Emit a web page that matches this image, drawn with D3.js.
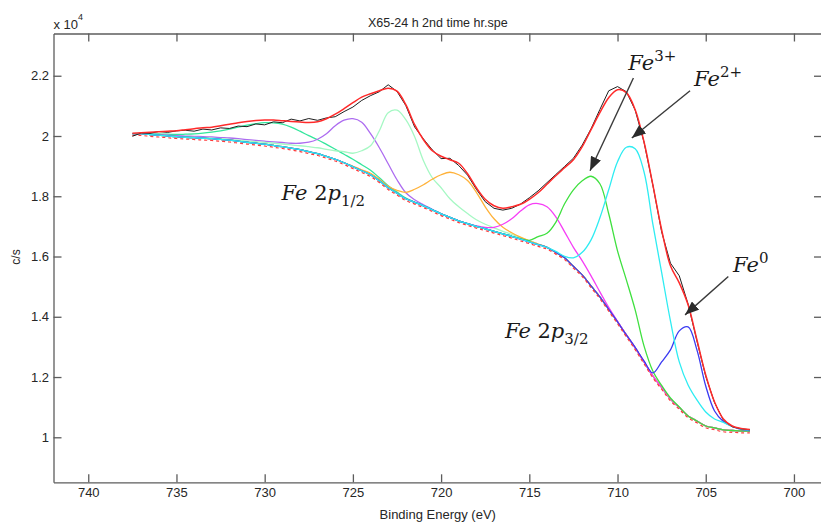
<!DOCTYPE html>
<html>
<head>
<meta charset="utf-8">
<script src="https://cdn.jsdelivr.net/npm/d3@7"></script>
<style>
  body { margin: 0; background: #fff; }
  svg { display: block; }
  .axis text { font-family: "Liberation Sans", Arial, sans-serif; font-size: 13px; fill: #262626; }
  .axis path, .axis line { stroke: #5c5c5c; stroke-width: 1.3; }
  .lbl { font-family: "Liberation Sans", Arial, sans-serif; fill: #262626; }
  .math { font-family: "DejaVu Serif", serif; fill: #1a1a1a; }
</style>
</head>
<body>
<svg id="chart" width="821" height="522"></svg>
<script>
// binding energy grid (eV), 0.5 eV steps
const energy = [737.5, 737, 736.5, 736, 735.5, 735, 734.5, 734, 733.5, 733, 732.5, 732, 731.5, 731, 730.5, 730,
  729.5, 729, 728.5, 728, 727.5, 727, 726.5, 726, 725.5, 725, 724.5, 724, 723.5, 723, 722.5, 722, 721.5, 721,
  720.5, 720, 719.5, 719, 718.5, 718, 717.5, 717, 716.5, 716, 715.5, 715, 714.5, 714, 713.5, 713, 712.5, 712,
  711.5, 711, 710.5, 710, 709.5, 709, 708.5, 708, 707.5, 707, 706.5, 706, 705.5, 705, 704.5, 704, 703.5, 703, 702.5];

// shirley background (c/s)
const background = [20076, 20076, 20049, 20026, 20003, 19976, 19959, 19943, 19926, 19910, 19886, 19860, 19827,
  19793, 19760, 19727, 19687, 19644, 19594, 19544, 19478, 19411, 19322, 19228, 19112, 18979, 18847, 18714, 18514,
  18282, 18099, 17916, 17800, 17684, 17551, 17418, 17302, 17186, 17093, 17003, 16920, 16837, 16754, 16671, 16578,
  16488, 16395, 16305, 16139, 15956, 15674, 15392, 15026, 14661, 14246, 13830, 13398, 12967, 12501, 12036, 11654,
  11272, 10990, 10708, 10541, 10375, 10309, 10243, 10226, 10209, 10209];

// fitted envelope (c/s)
const envelope = [20092, 20109, 20125, 20142, 20159, 20175, 20208, 20241, 20275, 20291, 20341, 20391, 20441,
  20484, 20514, 20531, 20531, 20508, 20484, 20464, 20451, 20474, 20574, 20723, 20906, 21105, 21288, 21404, 21504,
  21587, 21487, 21038, 20375, 19876, 19511, 19328, 19212, 19096, 18749, 18282, 17900, 17684, 17601, 17651, 17734,
  17900, 18116, 18398, 18680, 18946, 19212, 19644, 20209, 20773, 21272, 21537, 21438, 20873, 19810, 18383, 16888,
  15691, 15126, 14398, 13236, 12070, 11173, 10608, 10375, 10292, 10259];

// measured spectrum (c/s)
const measured = [19990, 20100, 20090, 20150, 20120, 20170, 20190, 20160, 20230, 20200, 20270, 20250, 20330,
  20310, 20400, 20370, 20470, 20440, 20560, 20500, 20580, 20520, 20600, 20640, 20810, 20960, 21180, 21340, 21470,
  21700, 21480, 21010, 20300, 19900, 19540, 19250, 19260, 19020, 18700, 18230, 17820, 17600, 17540, 17600, 17740,
  17950, 18180, 18450, 18720, 18990, 19260, 19700, 20240, 20880, 21500, 21640, 21470, 20860, 19800, 18380, 16820,
  15780, 15360, 14420, 13200, 12020, 11150, 10570, 10350, 10280, 10250];

// fitted components: height above background (c/s), first point at the energy in peakStarts
const sat730 = [0, 13, 27, 40, 56, 76, 100, 126, 166, 216, 282, 365, 465, 565, 648, 714, 747, 747, 698, 615,
  532, 465, 399, 332, 282, 249, 199, 150, 100, 66, 40, 20, 7, 0];
const peak725 = [0, 0, 10, 17, 23, 33, 40, 47, 50, 56, 63, 73, 83, 90, 93, 100, 116, 140, 166, 216, 316, 482,
  754, 1113, 1412, 1595, 1611, 1362, 1096, 797, 448, 199, 83, 33, 17, 0];
const peak723 = [0, 7, 13, 17, 20, 23, 27, 33, 40, 50, 60, 73, 90, 110, 133, 166, 199, 233, 282, 365, 448, 664,
  963, 1661, 2492, 2757, 2624, 2176, 1495, 1063, 864, 615, 465, 332, 216, 150, 116, 83, 66, 50, 33, 20, 10, 0];
const peak719 = [17, 33, 50, 50, 50, 100, 216, 432, 698, 1013, 1296, 1495, 1528, 1428, 1129, 731, 415, 216, 116,
  66, 33, 17, 0];
const peak715 = [17, 50, 133, 316, 581, 930, 1229, 1362, 1345, 1179, 864, 631, 465, 332, 166, 66, 17, 0];
const fe3 = [0, 17, 50, 266, 465, 997, 1794, 2541, 3123, 3638, 3754, 3173, 2359, 1827, 1262, 532, 166, 66, 33, 17, 0];
const fe2 = [33, 50, 282, 747, 1528, 2624, 3970, 5315, 6229, 6611, 6312, 5049, 3820, 2591, 1512, 1030, 698, 465,
  299, 249, 133, 66, 33];
const fe0 = [17, 33, 100, 847, 1628, 2541, 2956, 2359, 1329, 565, 282, 133, 50, 17];

const peakStarts = [737.5, 737.5, 735, 725, 718, 716, 713.5, 709];

const xTicks = [740, 735, 730, 725, 720, 715, 710, 705, 700];
const yTicks = [10000, 12000, 14000, 16000, 18000, 20000, 22000];

const svg = d3.select("#chart");
const plotLeft = 53.5, plotRight = 822, plotTop = 33.5, plotBottom = 482.3;

const x = d3.scaleLinear().domain([741.97, 698.41]).range([plotLeft, plotRight]);
const y = d3.scaleLinear().domain([8506, 23402]).range([plotBottom, plotTop]);

svg.append("rect").attr("width", 821).attr("height", 522).attr("fill", "#fff");

svg.append("clipPath").attr("id", "plotclip")
  .append("rect").attr("x", plotLeft).attr("y", plotTop)
  .attr("width", plotRight - plotLeft).attr("height", plotBottom - plotTop);

const plot = svg.append("g").attr("clip-path", "url(#plotclip)");

const line = d3.line()
  .x(d => x(d[0]))
  .y(d => y(d[1]))
  .curve(d3.curveCatmullRom.alpha(0.5));

const componentPoints = (start, heights) => {
  const offset = energy.indexOf(start);
  return energy.map((e, i) => {
    const j = i - offset;
    const h = j >= 0 && j < heights.length ? heights[j] : 0;
    return [e, background[i] + h];
  });
};

const components = [sat730, peak725, peak723, peak719, peak715, fe3, fe0, fe2];
const starts = [peakStarts[0], peakStarts[1], peakStarts[2], peakStarts[3], peakStarts[4], peakStarts[5],
  peakStarts[7], peakStarts[6]];
const compColors = ["#33e69c", "#ad6cf0", "#a6f8c4", "#ffb23a", "#f63ef6", "#3fe03f", "#3a3af2", "#2eecf2"];

components.forEach((heights, k) => {
  plot.append("path")
    .attr("d", line(componentPoints(starts[k], heights)))
    .attr("fill", "none")
    .attr("stroke", compColors[k])
    .attr("stroke-width", 1.3);
});

// background as dashed red
plot.append("path")
  .attr("d", line(energy.map((e, i) => [e, background[i]])))
  .attr("transform", "translate(0,1.8)")
  .attr("fill", "none")
  .attr("stroke", "#ff3b3b")
  .attr("stroke-width", 1.2)
  .attr("stroke-dasharray", "3,3");

// raw data
plot.append("path")
  .attr("d", d3.line().x(d => x(d[0])).y(d => y(d[1]))(energy.map((e, i) => [e, measured[i]])))
  .attr("fill", "none")
  .attr("stroke", "#1e1e1e")
  .attr("stroke-width", 1);

// envelope
plot.append("path")
  .attr("d", line(energy.map((e, i) => [e, envelope[i]])))
  .attr("fill", "none")
  .attr("stroke", "#ff2a2a")
  .attr("stroke-width", 1.5);

// axes
svg.append("g").attr("class", "axis")
  .attr("transform", `translate(0,${plotBottom})`)
  .call(d3.axisBottom(x).tickValues(xTicks).tickSize(-8).tickSizeOuter(0).tickPadding(5));
svg.append("g").attr("class", "axis")
  .attr("transform", `translate(0,${plotTop})`)
  .call(d3.axisTop(x).tickValues(xTicks).tickSize(-8).tickSizeOuter(0).tickFormat(""));
svg.append("g").attr("class", "axis")
  .attr("transform", `translate(${plotLeft},0)`)
  .call(d3.axisLeft(y).tickValues(yTicks).tickSize(-8).tickSizeOuter(0).tickPadding(4.5)
    .tickFormat(d => String(d / 10000)));
svg.append("g").attr("class", "axis")
  .attr("transform", `translate(${plotRight},0)`)
  .call(d3.axisRight(y).tickValues(yTicks).tickSize(-8).tickSizeOuter(0).tickFormat(""));

// titles
svg.append("text").attr("class", "lbl")
  .attr("x", (plotLeft + plotRight) / 2).attr("y", 26.5)
  .attr("text-anchor", "middle").attr("font-size", 12.5)
  .text("X65-24 h 2nd time hr.spe");

const expo = svg.append("text").attr("class", "lbl")
  .attr("x", plotLeft).attr("y", 29).attr("font-size", 13);
expo.append("tspan").text("x 10");
expo.append("tspan").attr("dy", -9).attr("font-size", 9).text("4");

svg.append("text").attr("class", "lbl")
  .attr("transform", "translate(20,257) rotate(-90)")
  .attr("text-anchor", "middle").attr("font-size", 12)
  .text("c/s");

svg.append("text").attr("class", "lbl")
  .attr("x", (plotLeft + plotRight) / 2).attr("y", 519)
  .attr("text-anchor", "middle").attr("font-size", 13)
  .text("Binding Energy (eV)");

// annotations (data coordinates)
const arrowFrom = [[709.1, 21926], [705.89, 21504], [703.72, 15335]];
const arrowTo = [[711.56, 18846], [709.19, 19933], [706.17, 14063]];

svg.append("defs").append("marker")
  .attr("id", "head")
  .attr("markerUnits", "userSpaceOnUse")
  .attr("markerWidth", 15).attr("markerHeight", 11)
  .attr("refX", 14).attr("refY", 5.5)
  .attr("orient", "auto")
  .append("path").attr("d", "M0,0 L14,5.5 L0,11 Z").attr("fill", "#2b2b2b");

arrowFrom.forEach((p, i) => {
  svg.append("line")
    .attr("x1", x(p[0])).attr("y1", y(p[1]))
    .attr("x2", x(arrowTo[i][0])).attr("y2", y(arrowTo[i][1]))
    .attr("stroke", "#3a3a3a").attr("stroke-width", 1.4)
    .attr("marker-end", "url(#head)");
});

const mathLabel = (e, c, main, script, shift) => {
  const t = svg.append("text").attr("class", "math")
    .attr("x", x(e)).attr("y", y(c)).attr("font-size", 21);
  main.forEach(([s, italic]) => {
    t.append("tspan").attr("font-style", italic ? "italic" : "normal").text(s);
  });
  t.append("tspan").attr("dy", shift).attr("font-size", 15).text(script);
};

mathLabel(709.39, 22202, [["Fe", true]], "3+", -9);
mathLabel(705.66, 21670, [["Fe", true]], "2+", -9);
mathLabel(703.45, 15501, [["Fe", true]], "0", -9);
mathLabel(729.04, 17860, [["Fe ", true], ["2", false], ["p", true]], "1/2", 6);
mathLabel(716.38, 13289, [["Fe ", true], ["2", false], ["p", true]], "3/2", 6);
</script>
</body>
</html>
